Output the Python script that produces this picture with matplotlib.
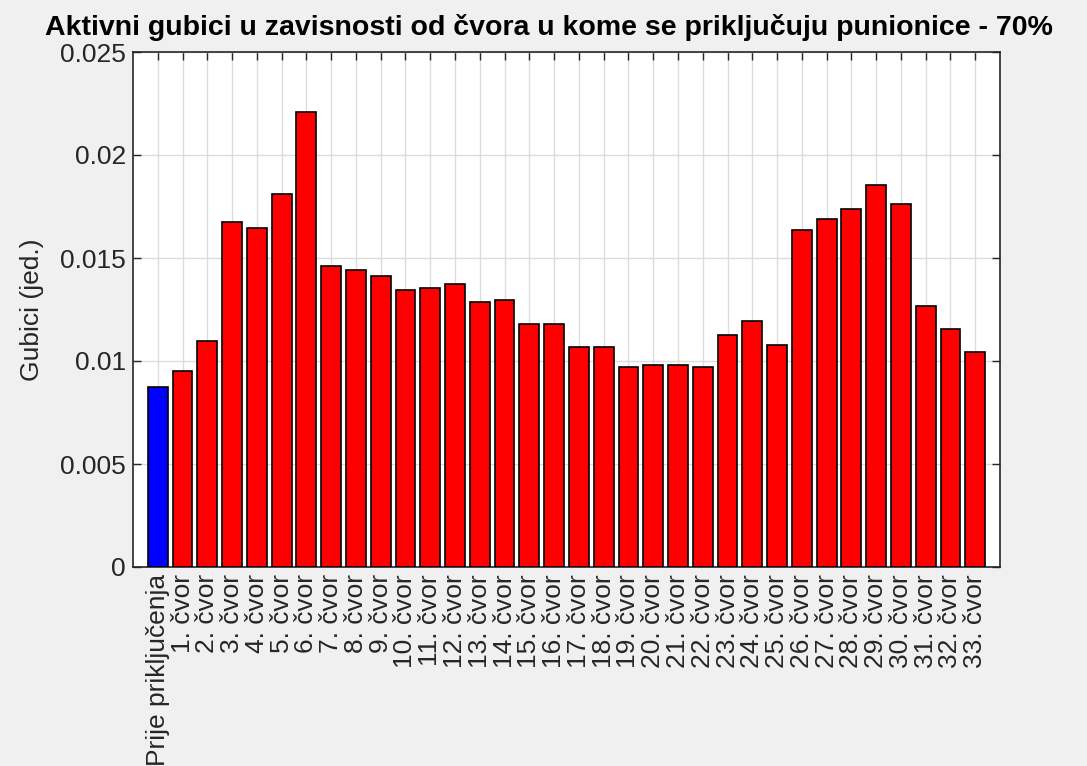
import numpy as np
import matplotlib
matplotlib.use("Agg")
import matplotlib.pyplot as plt

# gubici prije priključenja i za svaki čvor (očitano sa slike)
before_label = "Prije priključenja"
before_loss = 0.00872

nodes = list(range(1, 34))
node_losses = [
    0.00950, 0.01095, 0.01674, 0.01648, 0.01813, 0.02207, 0.01462, 0.01441,
    0.01413, 0.01345, 0.01354, 0.01375, 0.01288, 0.01298, 0.01181, 0.01181,
    0.01067, 0.01067, 0.00971, 0.00980, 0.00980, 0.00971, 0.01125, 0.01196,
    0.01077, 0.01638, 0.01687, 0.01738, 0.01854, 0.01764, 0.01268, 0.01154,
    0.01046,
]
labels = [before_label] + [f"{n}. čvor" for n in nodes]
values = [before_loss] + node_losses
colors = ["#0000ff"] + ["#ff0000"] * len(node_losses)

plt.rcParams['font.family'] = ['Liberation Sans', 'DejaVu Sans']

fig = plt.figure(figsize=(10.87, 7.66), dpi=100, facecolor="#f0f0f0")
ax = fig.add_axes([133 / 1087, 1 - 567 / 766, 867 / 1087, 515 / 766])

x = np.arange(1, len(values) + 1)
ax.bar(x, values, width=0.8, color=colors, edgecolor="black", linewidth=1.2, zorder=3)

ax.set_xlim(0, len(values) + 1)
ax.set_ylim(0, 0.025)
ax.set_yticks([0, 0.005, 0.01, 0.015, 0.02, 0.025])
ax.set_yticklabels(["0", "0.005", "0.01", "0.015", "0.02", "0.025"])
ax.set_xticks(x)
ax.set_xticklabels(labels, rotation=90)

ax.grid(True, color="#dcdcdc", linewidth=1, zorder=0)
ax.tick_params(direction="in", top=True, right=True, length=6, width=1,
               labelsize=19, colors="#262626", labelcolor="#262626", pad=5)
for s in ax.spines.values():
    s.set_color("#262626")
    s.set_linewidth(1.2)

ax.set_ylabel("Gubici (jed.)", fontsize=19, color="#262626", labelpad=12)
ax.set_title("Aktivni gubici u zavisnosti od čvora u kome se priključuju punionice - 70%",
             fontsize=20.5, fontweight="bold", pad=12, x=0.48)

fig.savefig("out.png", dpi=100, facecolor=fig.get_facecolor())
